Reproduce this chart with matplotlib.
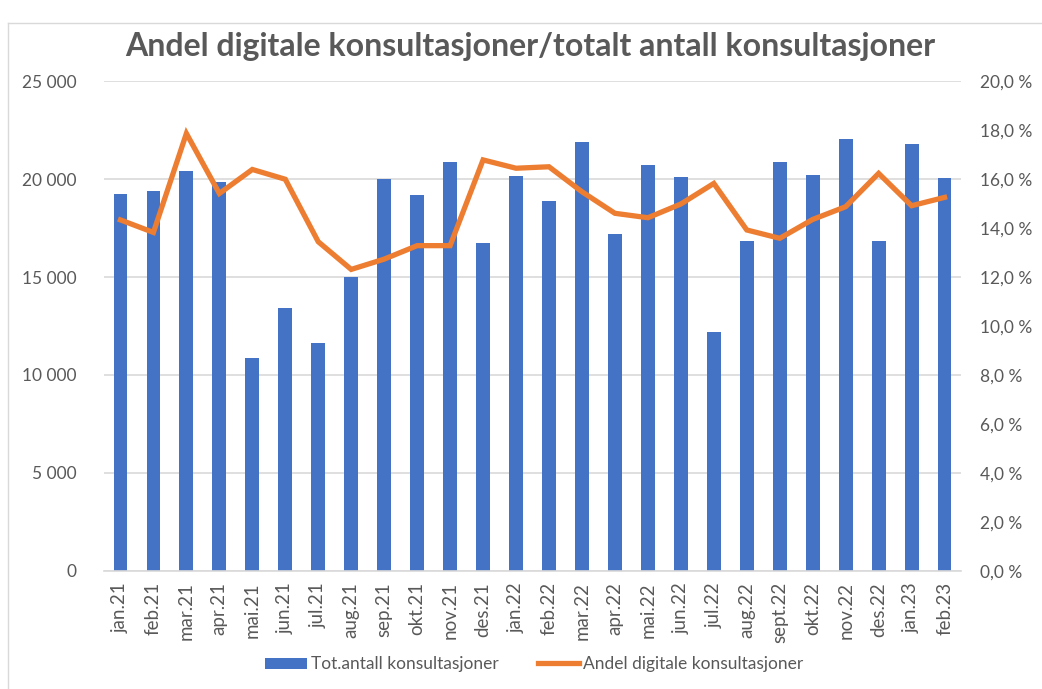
import matplotlib.pyplot as plt
from matplotlib.ticker import FuncFormatter
from matplotlib.lines import Line2D
from matplotlib.patches import Patch

# month labels
months = ['jan.21', 'feb.21', 'mar.21', 'apr.21', 'mai.21', 'jun.21', 'jul.21',
          'aug.21', 'sep.21', 'okt.21', 'nov.21', 'des.21', 'jan.22', 'feb.22',
          'mar.22', 'apr.22', 'mai.22', 'jun.22', 'jul.22', 'aug.22', 'sept.22',
          'okt.22', 'nov.22', 'des.22', 'jan.23', 'feb.23']

# total number of consultations
total = [19230, 19400, 20400, 19860, 10850, 13400, 11630, 14980, 19980, 19180,
         20880, 16730, 20150, 18860, 21900, 17210, 20740, 20100, 12210, 16840,
         20880, 20200, 22060, 16840, 21790, 20030]

# share of digital consultations (%)
share = [14.33, 13.82, 17.86, 15.41, 16.39, 15.99, 13.44, 12.31, 12.73, 13.28,
         13.28, 16.78, 16.44, 16.50, 15.48, 14.60, 14.42, 14.98, 15.82, 13.92,
         13.58, 14.35, 14.87, 16.23, 14.91, 15.25]

blue = '#4472C4'
orange = '#ED7D31'
gray = '#595959'

plt.rcParams['font.family'] = ['Lato', 'DejaVu Sans']

fig = plt.figure(figsize=(10.42, 6.89), dpi=100)
ax = fig.add_axes([0.0998, 0.1713, 0.8225, 0.7111])
ax2 = ax.twinx()

x = list(range(len(months)))
ax.bar(x, total, width=0.42, color=blue, zorder=2)
ax2.plot(x, share, color=orange, lw=3.8, solid_joinstyle='miter', zorder=3)

ax.set_xlim(-0.5, len(months) - 0.5)
ax.set_ylim(0, 25000)
ax.set_yticks(range(0, 25001, 5000))
ax.yaxis.set_major_formatter(FuncFormatter(lambda v, p: f'{int(v):,}'.replace(',', ' ')))
ax2.set_ylim(0, 20)
ax2.set_yticks(range(0, 21, 2))
ax2.yaxis.set_major_formatter(FuncFormatter(lambda v, p: f'{v:.1f}'.replace('.', ',') + ' %'))

ax.grid(axis='y', color='#D9D9D9', lw=1.2, zorder=0)
ax.set_axisbelow(True)
for a in (ax, ax2):
    for s in a.spines.values():
        s.set_visible(False)
    a.tick_params(length=0, colors=gray, labelsize=12.5)
ax.spines['bottom'].set_visible(True)
ax.spines['bottom'].set_color('#D9D9D9')
ax.spines['bottom'].set_linewidth(1.2)

ax.set_xticks(x)
ax.set_xticklabels(months, rotation=90, fontsize=13.5, color=gray)
ax.tick_params(axis='x', pad=8)
ax.tick_params(axis='y', pad=20)
ax2.tick_params(axis='y', pad=14)

fig.text(0.509, 0.932, 'Andel digitale konsultasjoner/totalt antall konsultasjoner',
         ha='center', va='center', fontsize=23, fontweight='bold', color=gray)

handles = [Patch(facecolor=blue, label='Tot.antall konsultasjoner'),
           Line2D([0], [0], color=orange, lw=3.8, label='Andel digitale konsultasjoner')]
fig.legend(handles=handles, loc='center', bbox_to_anchor=(0.513, 0.036), ncol=2,
           frameon=False, fontsize=12.5, labelcolor=gray, handlelength=2.4,
           handleheight=0.6, columnspacing=2.25, handletextpad=0.23)

# chart frame lines
fig.add_artist(Line2D([0.008, 0.008], [0, 0.967], color='#D9D9D9', lw=1))
fig.add_artist(Line2D([0.008, 1], [0.967, 0.967], color='#D9D9D9', lw=1))

fig.savefig('out.png', dpi=100)
